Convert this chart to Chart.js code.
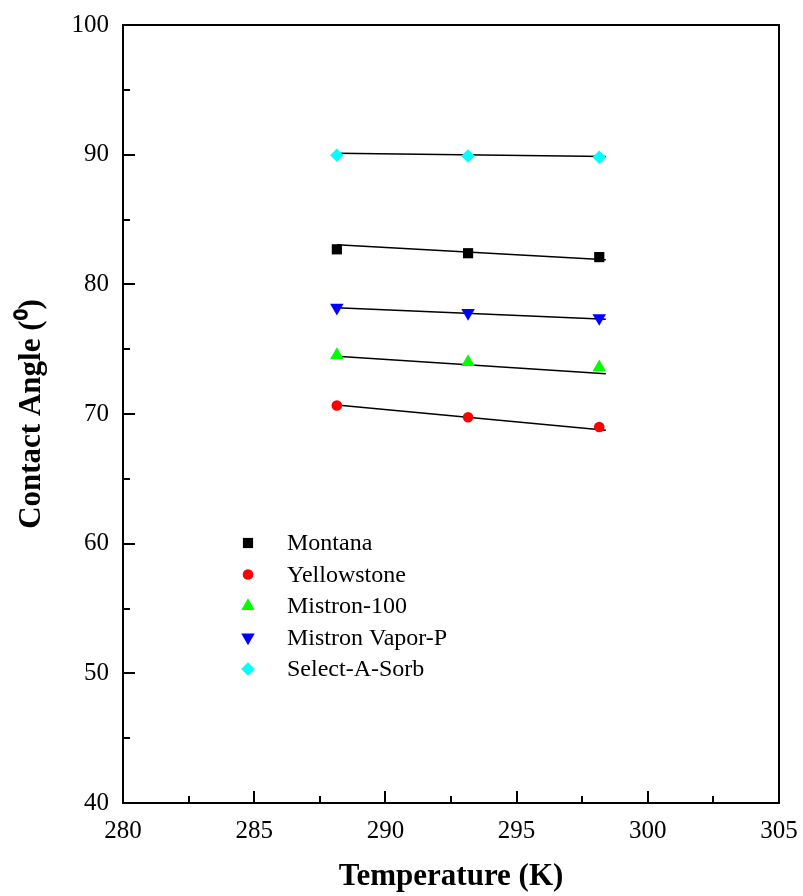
<!DOCTYPE html>
<html>
<head>
<meta charset="utf-8">
<script src="https://cdn.jsdelivr.net/npm/chart.js@4.4.0/dist/chart.umd.min.js"></script>
<style>
  html, body { margin: 0; padding: 0; background: #fff; }
</style>
</head>
<body>
<canvas id="contactChart" width="803" height="896"></canvas>
<script>
// measured points
const temps = [288.15, 293.15, 298.15];
const montana = [82.7, 82.4, 82.1];
const yellowstone = [70.65, 69.75, 69.0];
const mistron100 = [74.55, 74.0, 73.6];
const mistronVapor = [78.2, 77.8, 77.4];
const selectASorb = [89.95, 89.9, 89.8];

// fitted lines (end points)
const fitX = [288.15, 298.4];
const montanaFit = [83.05, 81.9];
const yellowstoneFit = [70.7, 68.75];
const mistron100Fit = [74.45, 73.1];
const mistronVaporFit = [78.2, 77.3];
const selectASorbFit = [90.1, 89.85];

const xTickRange = [280, 305];
const yTickRange = [40, 100];

const serif = '"Liberation Serif", "Times New Roman", serif';

function toPoints(xs, ys) {
    return xs.map((x, i) => ({ x: x, y: ys[i] }));
}

function markerSet(label, ys, color, style, radius, rotation) {
    return {
        label: label,
        data: toPoints(temps, ys),
        showLine: false,
        pointStyle: style,
        pointRadius: radius,
        pointRotation: rotation || 0,
        backgroundColor: color,
        borderColor: color,
        pointBorderWidth: 0,
        isMarker: true
    };
}

function fitSet(ys) {
    return {
        label: '',
        data: toPoints(fitX, ys),
        showLine: true,
        borderColor: '#000',
        borderWidth: 1.5,
        pointRadius: 0,
        fill: false
    };
}

// 画坐标框和刻度
const frameAndTicks = {
    id: 'frameAndTicks',
    afterDraw(chart) {
        const ctx = chart.ctx;
        const a = chart.chartArea;
        const xs = chart.scales.x;
        const ys = chart.scales.y;
        ctx.save();
        ctx.strokeStyle = '#000';
        ctx.lineWidth = 2;
        ctx.strokeRect(a.left, a.top, a.right - a.left, a.bottom - a.top);
        ctx.beginPath();
        for (let v = xTickRange[0]; v <= xTickRange[1]; v += 2.5) {
            const px = Math.round(xs.getPixelForValue(v));
            const len = (v % 5 === 0) ? 12 : 7;
            ctx.moveTo(px, a.bottom);
            ctx.lineTo(px, a.bottom - len);
        }
        for (let v = yTickRange[0]; v <= yTickRange[1]; v += 5) {
            const py = Math.round(ys.getPixelForValue(v));
            const len = (v % 10 === 0) ? 12 : 7;
            ctx.moveTo(a.left, py);
            ctx.lineTo(a.left + len, py);
        }
        ctx.stroke();
        ctx.restore();
    }
};

// 图内图例
const innerLegend = {
    id: 'innerLegend',
    afterDraw(chart) {
        const ctx = chart.ctx;
        const a = chart.chartArea;
        const markerX = a.left + 125;
        const textX = a.left + 164;
        let y = a.top + 518;
        ctx.save();
        ctx.font = '24px ' + serif;
        ctx.fillStyle = '#000';
        ctx.textBaseline = 'middle';
        chart.data.datasets.forEach(ds => {
            if (!ds.isMarker) return;
            ctx.fillStyle = ds.backgroundColor;
            Chart.helpers.drawPoint(ctx, {
                pointStyle: ds.pointStyle,
                radius: ds.pointRadius,
                rotation: ds.pointRotation,
                borderWidth: 0
            }, markerX, y);
            ctx.fillStyle = '#000';
            ctx.fillText(ds.label, textX, y + 1);
            y += 31.5;
        });
        ctx.restore();
    }
};

document.addEventListener('DOMContentLoaded', function() {
    const ctx = document.getElementById('contactChart').getContext('2d');
    new Chart(ctx, {
        type: 'scatter',
        data: {
            datasets: [
                markerSet('Montana', montana, '#000000', 'rect', 7.2),
                markerSet('Yellowstone', yellowstone, '#ff0000', 'circle', 5.3),
                markerSet('Mistron-100', mistron100, '#00ff00', 'triangle', 7.8),
                markerSet('Mistron Vapor-P', mistronVapor, '#0000ff', 'triangle', 7.8, 180),
                markerSet('Select-A-Sorb', selectASorb, '#00ffff', 'rectRot', 6.8),
                fitSet(montanaFit),
                fitSet(yellowstoneFit),
                fitSet(mistron100Fit),
                fitSet(mistronVaporFit),
                fitSet(selectASorbFit)
            ]
        },
        options: {
            responsive: false,
            animation: false,
            layout: { padding: { top: 25, right: 24, left: 0, bottom: 0 } },
            scales: {
                x: {
                    type: 'linear',
                    min: xTickRange[0],
                    max: xTickRange[1],
                    grid: { display: false, drawTicks: false },
                    border: { display: false },
                    ticks: {
                        stepSize: 5,
                        padding: 13,
                        color: '#000',
                        font: { family: serif, size: 25 }
                    },
                    title: {
                        display: true,
                        text: 'Temperature (K)',
                        color: '#000',
                        padding: { top: 0, bottom: 0 },
                        font: { family: serif, size: 31, weight: 'bold' }
                    },
                    afterFit(scale) {
                        scale.height = 93;
                        scale.paddingLeft = 0;
                        scale.paddingRight = 0;
                    }
                },
                y: {
                    min: yTickRange[0],
                    max: yTickRange[1],
                    grid: { display: false, drawTicks: false },
                    border: { display: false },
                    ticks: {
                        stepSize: 10,
                        padding: 14,
                        color: '#000',
                        font: { family: serif, size: 25 }
                    },
                    title: {
                        display: true,
                        text: 'Contact Angle (⁰)',
                        color: '#000',
                        padding: { top: 13, bottom: 0 },
                        font: { family: serif, size: 31, weight: 'bold' }
                    },
                    afterFit(scale) {
                        scale.width = 123;
                        scale.paddingTop = 0;
                        scale.paddingBottom = 0;
                    }
                }
            },
            plugins: {
                legend: { display: false },
                tooltip: { enabled: false }
            }
        },
        plugins: [frameAndTicks, innerLegend]
    });
});
</script>
</body>
</html>
